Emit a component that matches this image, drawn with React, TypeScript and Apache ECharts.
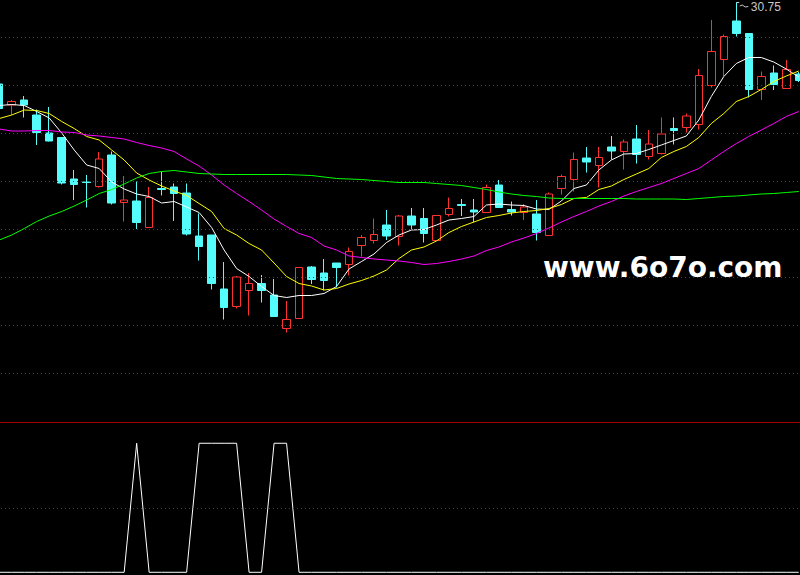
import { useEffect, useRef } from 'react';
import * as echarts from 'echarts';

// 日K数据：开盘 / 收盘 / 最低 / 最高
const opens = [
  29.12, 28.70, 28.80, 28.50, 28.14, 28.05, 27.22, 27.16, 27.07, 27.70,
  26.75, 26.78, 26.25, 27.03, 27.06, 26.94, 26.08, 26.10, 25.02, 24.67,
  24.99, 25.13, 24.90, 24.23, 24.43, 25.46, 25.34, 25.54, 25.51, 25.89,
  25.99, 26.30, 26.07, 26.48, 26.43, 25.99, 26.51, 26.71, 26.60, 26.55,
  27.10, 26.61, 26.55, 26.52, 26.09, 27.03, 27.21, 27.64, 27.49, 27.86,
  27.77, 28.02, 27.67, 27.73, 28.23, 28.25, 28.31, 29.09, 29.61, 30.38,
  30.13, 29.01, 29.34, 29.03, 29.32,
];
const closes = [
  28.63, 28.77, 28.70, 28.15, 27.98, 27.14, 27.11, 27.15, 27.62, 26.74,
  26.80, 26.35, 26.85, 27.01, 26.93, 26.12, 25.87, 25.13, 24.65, 25.26,
  25.13, 24.99, 24.47, 24.41, 25.45, 25.21, 25.19, 25.45, 25.77, 26.05,
  26.11, 26.08, 26.48, 26.30, 26.13, 26.49, 26.63, 26.69, 26.56, 27.05,
  26.65, 26.56, 26.66, 26.15, 26.92, 27.27, 27.61, 27.56, 27.65, 27.78,
  27.96, 27.71, 27.92, 28.12, 28.19, 28.48, 29.29, 29.77, 30.07, 30.13,
  29.01, 29.27, 29.11, 29.41, 29.19,
];
const lows = [
  28.62, 28.50, 28.45, 27.90, 27.97, 27.11, 26.80, 26.65, 27.05, 26.71,
  26.37, 26.22, 26.24, 26.89, 26.38, 26.09, 25.59, 25.01, 24.41, 24.63,
  24.49, 24.75, 24.46, 24.15, 24.43, 25.12, 24.99, 25.05, 25.29, 25.67,
  25.93, 26.00, 25.89, 26.22, 25.95, 25.99, 26.47, 26.48, 26.36, 26.54,
  26.64, 26.49, 26.40, 25.99, 26.08, 26.91, 26.97, 27.35, 27.05, 27.61,
  27.41, 27.53, 27.61, 27.71, 27.91, 28.15, 28.21, 29.05, 29.28, 30.07,
  28.85, 28.80, 29.00, 29.02, 29.16,
];
const highs = [
  29.14, 28.80, 28.88, 28.61, 28.66, 28.06, 27.40, 27.30, 27.76, 27.77,
  27.28, 27.17, 27.06, 27.37, 27.13, 27.13, 26.53, 26.10, 25.56, 25.28,
  25.34, 25.30, 25.22, 24.78, 25.46, 25.48, 25.62, 25.54, 25.85, 26.10,
  26.43, 26.60, 26.50, 26.64, 26.64, 26.50, 26.85, 26.82, 26.82, 27.11,
  27.20, 26.77, 26.72, 26.80, 26.95, 27.31, 27.75, 27.86, 27.86, 28.08,
  28.01, 28.30, 28.20, 28.45, 28.45, 28.53, 29.42, 30.40, 30.11, 30.75,
  30.13, 29.37, 29.49, 29.60, 29.36,
];

// 均线
const ma5 = [
  28.69, 28.71, 28.69, 28.57, 28.44, 28.14, 27.80, 27.50, 27.43, 27.16,
  27.02, 26.92, 26.87, 26.74, 26.77, 26.66, 26.55, 26.25, 25.80, 25.43,
  25.27, 25.07, 24.89, 24.85, 24.89, 24.89, 24.93, 25.07, 25.42, 25.57,
  25.72, 25.95, 26.10, 26.20, 26.21, 26.30, 26.40, 26.43, 26.47, 26.70,
  26.72, 26.70, 26.69, 26.62, 26.61, 26.78, 27.03, 27.10, 27.40, 27.60,
  27.72, 27.73, 27.81, 27.90, 27.99, 28.08, 28.40, 28.87, 29.27, 29.53,
  29.65, 29.65, 29.56, 29.42, 29.26,
];
const ma10 = [
  28.43, 28.50, 28.60, 28.59, 28.53, 28.37, 28.23, 28.07, 28.00, 27.80,
  27.60, 27.34, 27.20, 27.08, 26.98, 26.89, 26.73, 26.57, 26.23, 26.10,
  25.93, 25.80, 25.54, 25.27, 25.13, 25.08, 25.00, 25.03, 25.12, 25.19,
  25.28, 25.40, 25.63, 25.80, 25.86, 25.98, 26.15, 26.27, 26.36, 26.45,
  26.49, 26.54, 26.57, 26.59, 26.63, 26.71, 26.83, 26.85, 27.01, 27.08,
  27.21, 27.32, 27.43, 27.65, 27.77, 27.87, 28.05, 28.33, 28.53, 28.77,
  28.87, 29.01, 29.17, 29.28, 29.38,
];
const ma20 = [
  28.22, 28.18, 28.18, 28.19, 28.19, 28.16, 28.15, 28.10, 28.08, 28.05,
  28.02, 27.95, 27.89, 27.84, 27.77, 27.62, 27.48, 27.30, 27.10, 26.93,
  26.77, 26.60, 26.42, 26.27, 26.13, 26.05, 25.88, 25.80, 25.68, 25.65,
  25.62, 25.60, 25.58, 25.55, 25.51, 25.53, 25.57, 25.62, 25.68, 25.79,
  25.86, 25.96, 26.04, 26.13, 26.24, 26.36, 26.47, 26.57, 26.68, 26.77,
  26.88, 26.97, 27.05, 27.13, 27.23, 27.33, 27.43, 27.60, 27.77, 27.93,
  28.07, 28.20, 28.33, 28.47, 28.57,
];
const ma60 = [
  26.00, 26.10, 26.23, 26.37, 26.48, 26.57, 26.68, 26.80, 26.93, 27.01,
  27.12, 27.24, 27.33, 27.37, 27.39, 27.36, 27.33, 27.32, 27.31, 27.31,
  27.31, 27.31, 27.31, 27.31, 27.30, 27.29, 27.26, 27.23, 27.22, 27.21,
  27.19, 27.17, 27.15, 27.15, 27.15, 27.13, 27.11, 27.09, 27.05, 27.01,
  26.96, 26.92, 26.89, 26.87, 26.84, 26.83, 26.83, 26.83, 26.83, 26.83,
  26.83, 26.82, 26.82, 26.82, 26.82, 26.81, 26.83, 26.85, 26.87, 26.88,
  26.90, 26.92, 26.93, 26.95, 26.97,
];

// 副图信号
const signal = [
  0, 0, 0, 0, 0, 0, 0, 0, 0, 0,
  0, 1, 0, 0, 0, 0, 1, 1, 1, 1,
  0, 0, 1, 1, 0, 0, 0, 0, 0, 0,
  0, 0, 0, 0, 0, 0, 0, 0, 0, 0,
  0, 0, 0, 0, 0, 0, 0, 0, 0, 0,
  0, 0, 0, 0, 0, 0, 0, 0, 0, 0,
  0, 0, 0, 0, 0,
];

// 主图水平虚线所在价位
const gridLevels = [30.05, 29.09, 28.13, 27.17, 26.21, 25.25, 24.29, 23.33];
const signalLevels = [0.5];

const days = opens.map((_, i) => String(i + 1));

// 画布向左多出半根K线，最左侧那根只露出一部分
const SHIFT = 7;

function App() {
  const chartRef = useRef<HTMLDivElement>(null);

  useEffect(() => {
    if (!chartRef.current) return;
    const chart = echarts.init(chartRef.current, null, { renderer: 'svg' });

    const dotted = { color: '#e00000', type: [1, 3], width: 1 };
    const maLine = (name: string, data: number[], color: string) => ({
      name,
      type: 'line',
      data,
      symbol: 'none',
      silent: true,
      lineStyle: { color, width: 1 },
      xAxisIndex: 0,
      yAxisIndex: 0,
    });

    chart.setOption({
      animation: false,
      backgroundColor: '#000',
      grid: [
        { left: 0, right: 0, top: 0, height: 422 },
        { left: 0, right: 0, top: 423, height: 152 },
      ],
      xAxis: [
        {
          type: 'category',
          data: days,
          gridIndex: 0,
          axisLine: { onZero: false, lineStyle: { color: '#a00000', width: 1 } },
          axisTick: { show: false },
          axisLabel: { show: false },
          splitLine: { show: false },
        },
        { type: 'category', data: days, gridIndex: 1, show: false },
      ],
      yAxis: [
        { type: 'value', gridIndex: 0, min: 22.36, max: 30.8, show: false, splitLine: { show: false } },
        { type: 'value', gridIndex: 1, min: -0.021, max: 1.157, show: false, splitLine: { show: false } },
      ],
      series: [
        {
          name: 'K',
          type: 'candlestick',
          data: opens.map((o, i) => [o, closes[i], lows[i], highs[i]]),
          barWidth: 8,
          silent: true,
          itemStyle: {
            color: '#000',
            color0: '#54fcfc',
            borderColor: '#ff3232',
            borderColor0: '#54fcfc',
            borderWidth: 1,
          },
          markLine: {
            silent: true,
            symbol: 'none',
            label: { show: false },
            lineStyle: dotted,
            data: gridLevels.map((v) => ({ yAxis: v })),
          },
        },
        maLine('MA5', ma5, '#ffffff'),
        maLine('MA10', ma10, '#ffff00'),
        maLine('MA20', ma20, '#ff00ff'),
        maLine('MA60', ma60, '#00ff00'),
        {
          name: 'signal',
          type: 'line',
          data: signal,
          symbol: 'none',
          silent: true,
          xAxisIndex: 1,
          yAxisIndex: 1,
          lineStyle: { color: '#ffffff', width: 1 },
          markLine: {
            silent: true,
            symbol: 'none',
            label: { show: false },
            lineStyle: dotted,
            data: signalLevels.map((v) => ({ yAxis: v })),
          },
        },
      ],
    });

    // 最高价标注
    const peak = highs.indexOf(Math.max(...highs));
    const p = chart.convertToPixel({ xAxisIndex: 0, yAxisIndex: 0 }, [peak, highs[peak]]) as number[];
    const grey = '#c8c8c8';
    chart.setOption({
      graphic: [
        {
          type: 'polyline',
          silent: true,
          shape: { points: [[p[0], p[1]], [p[0] + 3, p[1]]] },
          style: { stroke: grey, lineWidth: 1, fill: null },
        },
        {
          type: 'polyline',
          silent: true,
          shape: {
            points: [
              [p[0] + 3.5, p[1] + 3.5],
              [p[0] + 6, p[1] + 2.5],
              [p[0] + 9, p[1] + 4.5],
              [p[0] + 12, p[1] + 4],
            ],
          },
          style: { stroke: grey, lineWidth: 1, fill: null },
        },
        {
          type: 'text',
          silent: true,
          x: p[0] + 14.5,
          y: p[1] + 4.8,
          style: {
            text: highs[peak].toFixed(2),
            fill: grey,
            fontSize: 12,
            fontFamily: 'Liberation Sans',
            verticalAlign: 'middle',
          },
        },
        {
          type: 'text',
          silent: true,
          x: 543 + SHIFT,
          y: 267,
          style: {
            text: 'www.6o7o.com',
            fill: '#ffffff',
            fontSize: 28,
            fontWeight: 'bold',
            fontFamily: 'DejaVu Sans',
            verticalAlign: 'middle',
          },
        },
      ],
    });

    return () => {
      chart.dispose();
    };
  }, []);

  return (
    <div
      ref={chartRef}
      style={{ position: 'fixed', left: -SHIFT, top: 0, width: 812, height: 575, background: '#000' }}
    />
  );
}

export default App;
